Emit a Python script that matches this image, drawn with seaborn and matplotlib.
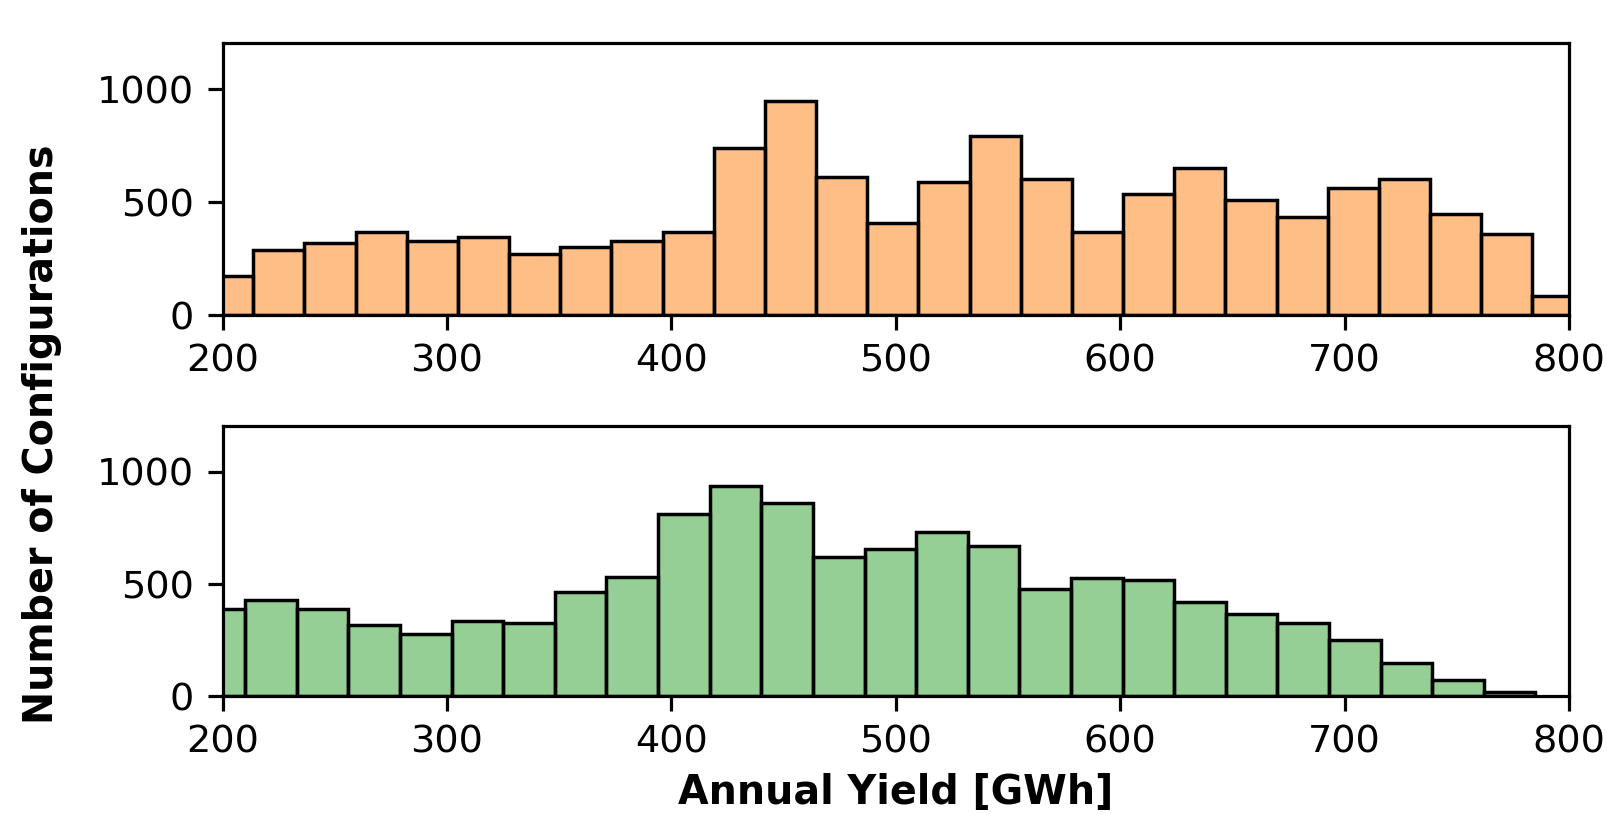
import numpy as np
import pandas as pd
import matplotlib
matplotlib.use("Agg")
import matplotlib.pyplot as plt
import seaborn as sns
from matplotlib.colors import to_rgba

# bin edges and counts
top_edges = [190.9, 213.7, 236.5, 259.3, 282.1, 304.9, 327.7, 350.5, 373.3,
             396.1, 418.9, 441.7, 464.5, 487.3, 510.1, 532.9, 555.7, 578.5,
             601.3, 624.1, 646.9, 669.7, 692.5, 715.3, 738.1, 760.9, 783.7, 806.5]
top_counts = [175, 290, 317, 370, 330, 344, 271, 302, 330, 369, 741, 948, 613,
              406, 589, 795, 601, 370, 536, 653, 510, 435, 564, 601, 446, 359, 86]

bottom_edges = [187.1, 210.1, 233.1, 256.1, 279.1, 302.1, 325.1, 348.1, 371.1,
                394.1, 417.1, 440.1, 463.1, 486.1, 509.1, 532.1, 555.1, 578.1,
                601.1, 624.1, 647.1, 670.1, 693.1, 716.1, 739.1, 762.1, 785.1]
bottom_counts = [390, 427, 390, 317, 277, 337, 325, 465, 530, 810, 935, 862, 620,
                 657, 732, 670, 479, 529, 518, 418, 367, 325, 249, 149, 74, 21]

x_ticks = [200, 300, 400, 500, 600, 700, 800]
y_ticks = [0, 500, 1000]


def binned_frame(edges, counts):
    centers = [(a + b) / 2 for a, b in zip(edges[:-1], edges[1:])]
    return pd.DataFrame({"yield": centers, "count": counts})


sns.set_style("ticks")
plt.rcParams["font.family"] = ["DejaVu Sans"]
plt.rcParams["text.color"] = "black"
plt.rcParams["axes.linewidth"] = 2.3
plt.rcParams["axes.edgecolor"] = "black"
for ax_name in ("xtick", "ytick"):
    plt.rcParams[f"{ax_name}.major.width"] = 2.3
    plt.rcParams[f"{ax_name}.major.size"] = 10.5
    plt.rcParams[f"{ax_name}.major.pad"] = 10
    plt.rcParams[f"{ax_name}.labelsize"] = 27.5
    plt.rcParams[f"{ax_name}.color"] = "black"
    plt.rcParams[f"{ax_name}.labelcolor"] = "black"

fig = plt.figure(figsize=(16.08, 8.14), dpi=100)
ax1 = fig.add_axes([0.1384, 0.613, 0.8373, 0.334])
ax2 = fig.add_axes([0.1384, 0.1446, 0.8373, 0.3324])

panels = [
    (ax1, top_edges, top_counts, "tab:orange"),
    (ax2, bottom_edges, bottom_counts, "tab:green"),
]
for ax, edges, counts, col in panels:
    df = binned_frame(edges, counts)
    sns.histplot(data=df, x="yield", weights="count", bins=edges, ax=ax,
                 color=to_rgba(col, 0.5), edgecolor="black", linewidth=2.5,
                 alpha=None)
    for p in ax.patches:
        p.set_facecolor(to_rgba(col, 0.5))
        p.set_edgecolor("black")
    ax.set_xlim(200, 800)
    ax.set_ylim(0, 1205)
    ax.set_xticks(x_ticks)
    ax.set_yticks(y_ticks)
    ax.set_xlabel("")
    ax.set_ylabel("")
    for s in ax.spines.values():
        s.set_visible(True)

fig.text(0.026, 0.466, "Number of Configurations", rotation=90,
         ha="center", va="center", fontsize=28.5, fontweight="bold")
fig.text(0.557, 0.026, "Annual Yield [GWh]", ha="center", va="center",
         fontsize=28.5, fontweight="bold")

fig.savefig("out.png", dpi=100)
